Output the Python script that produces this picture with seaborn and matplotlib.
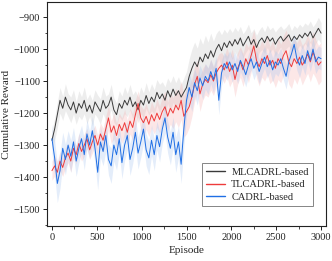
import numpy as np
import pandas as pd
import matplotlib
matplotlib.use("Agg")
import matplotlib.pyplot as plt
from matplotlib.ticker import MultipleLocator
import seaborn as sns

episodes = list(range(0, 3001, 30))

mlcadrl = [-1285, -1250, -1205, -1160, -1185, -1150, -1175, -1190, -1165, -1200,
           -1170, -1185, -1160, -1195, -1175, -1200, -1165, -1180, -1195, -1160,
           -1185, -1175, -1150, -1190, -1205, -1170, -1185, -1160, -1175, -1150,
           -1180, -1165, -1190, -1160, -1175, -1145, -1170, -1150, -1165, -1135,
           -1155, -1140, -1160, -1130, -1150, -1125, -1145, -1130, -1150, -1135,
           -1120, -1085, -1060, -1040, -1055, -1025, -1040, -1015, -1030, -1005,
           -1025, -1000, -985, -1005, -980, -995, -975, -990, -970, -985,
           -965, -990, -975, -960, -985, -970, -995, -975, -965, -980,
           -960, -975, -965, -985, -970, -960, -975, -965, -955, -975,
           -960, -970, -955, -965, -950, -960, -945, -965, -950, -935,
           -950]

tlcadrl = [-1380, -1365, -1385, -1350, -1370, -1340, -1325, -1350, -1310, -1330,
           -1295, -1320, -1300, -1280, -1315, -1290, -1270, -1300, -1265, -1285,
           -1250, -1215, -1260, -1240, -1270, -1235, -1255, -1230, -1260, -1225,
           -1245, -1205, -1170, -1215, -1230, -1210, -1235, -1205, -1225, -1200,
           -1220, -1195, -1180, -1210, -1185, -1200, -1175, -1190, -1160, -1210,
           -1195, -1180, -1150, -1110, -1085, -1140, -1110, -1095, -1105, -1080,
           -1100, -1075, -1060, -1050, -1065, -1040, -1070, -1050, -1095, -1060,
           -1040, -1065, -1030, -1050, -1020, -990, -1035, -1055, -1030, -1045,
           -1020, -1050, -1035, -1060, -1030, -1045, -1020, -1005, -1040, -1055,
           -1030, -1045, -1025, -1050, -1035, -1015, -1040, -1010, -1030, -1050,
           -1040]

cadrl = [-1280, -1340, -1420, -1380, -1310, -1345, -1300, -1335, -1290, -1350,
         -1310, -1280, -1330, -1265, -1300, -1255, -1310, -1385, -1290, -1320,
         -1270, -1345, -1365, -1300, -1330, -1280, -1355, -1300, -1270, -1345,
         -1310, -1260, -1325, -1290, -1250, -1315, -1340, -1285, -1330, -1270,
         -1305, -1250, -1215, -1275, -1310, -1260, -1330, -1290, -1360, -1250,
         -1160, -1120, -1150, -1105, -1130, -1090, -1115, -1085, -1100, -1070,
         -1095, -1060, -1160, -1075, -1045, -1060, -1040, -1065, -1045, -1070,
         -1035, -1055, -1080, -1050, -1030, -1060, -1040, -1070, -1045, -1025,
         -1055, -1035, -1065, -1040, -1050, -1030, -1060, -1085, -1040, -1015,
         -985, -1030, -1050, -1020, -1045, -1005, -1035, -1000, -1040, -1025,
         -1030]

mlcadrl_std = [30, 35, 40, 40, 38, 42, 36, 40, 38, 35,
               40, 36, 42, 38, 35, 40, 38, 36, 40, 42,
               38, 35, 40, 38, 36, 40, 38, 42, 36, 40,
               38, 35, 40, 42, 38, 40, 36, 42, 38, 40,
               45, 38, 42, 40, 45, 42, 40, 44, 40, 45,
               50, 55, 60, 62, 58, 60, 55, 58, 52, 55,
               50, 48, 45, 50, 42, 45, 40, 42, 38, 40,
               36, 38, 35, 38, 36, 34, 38, 35, 36, 34,
               35, 36, 34, 38, 35, 33, 36, 34, 35, 33,
               34, 35, 33, 34, 32, 34, 33, 35, 32, 34,
               33]

tlcadrl_std = [30, 32, 35, 30, 28, 32, 30, 35, 30, 28,
               32, 30, 35, 32, 30, 35, 32, 30, 35, 38,
               40, 38, 35, 40, 38, 35, 40, 42, 38, 40,
               42, 45, 40, 38, 42, 40, 38, 42, 40, 45,
               42, 45, 48, 45, 50, 48, 52, 55, 60, 65,
               70, 65, 60, 55, 50, 55, 50, 48, 45, 48,
               45, 42, 45, 40, 42, 45, 48, 50, 55, 50,
               48, 52, 50, 55, 52, 50, 55, 60, 58, 55,
               60, 58, 62, 60, 65, 60, 62, 65, 70, 68,
               62, 65, 60, 62, 58, 60, 62, 65, 60, 62,
               60]

cadrl_std = [45, 55, 60, 55, 50, 48, 45, 50, 45, 48,
             45, 42, 48, 45, 42, 45, 48, 55, 48, 45,
             50, 48, 55, 50, 48, 45, 50, 48, 45, 50,
             48, 45, 50, 48, 45, 50, 52, 48, 50, 45,
             48, 45, 48, 50, 52, 48, 55, 50, 60, 55,
             50, 48, 45, 42, 45, 40, 42, 40, 42, 38,
             40, 38, 45, 40, 35, 38, 35, 38, 36, 38,
             35, 36, 38, 35, 34, 36, 35, 38, 36, 34,
             36, 35, 38, 36, 35, 34, 36, 40, 36, 35,
             34, 36, 38, 35, 36, 34, 35, 34, 36, 35,
             35]

labels = ["MLCADRL-based", "TLCADRL-based", "CADRL-based"]
series = [mlcadrl, tlcadrl, cadrl]
stds = [mlcadrl_std, tlcadrl_std, cadrl_std]
line_colors = ["#3a3a3a", "#ee3b3b", "#1f6fe5"]
band_colors = ["#c4c4c4", "#f6b0b0", "#a6c4f0"]

frames = []
for lab, vals in zip(labels, series):
    frames.append(pd.DataFrame({"Episode": episodes, "Reward": vals, "Method": lab}))
df = pd.concat(frames, ignore_index=True)

sns.set_style("ticks")
plt.rcParams["font.family"] = ["Liberation Serif", "DejaVu Serif"]
plt.rcParams["axes.unicode_minus"] = True

fig = plt.figure(figsize=(3.32, 2.61), dpi=100)
ax = fig.add_axes([0.1416, 0.134, 0.8404, 0.858])

for vals, sd, bc in zip(series, stds, band_colors):
    v = np.array(vals, dtype=float)
    s = np.array(sd, dtype=float)
    ax.fill_between(episodes, v - s, v + s, color=bc, alpha=0.3, linewidth=0)

sns.lineplot(data=df, x="Episode", y="Reward", hue="Method",
             palette=dict(zip(labels, line_colors)), linewidth=0.7,
             ax=ax, legend=True, errorbar=None)

ax.set_xlim(-55, 3055)
ax.set_ylim(-1553, -853)
ax.xaxis.set_major_locator(MultipleLocator(500))
ax.xaxis.set_minor_locator(MultipleLocator(250))
ax.yaxis.set_major_locator(MultipleLocator(100))
ax.yaxis.set_minor_locator(MultipleLocator(50))
ax.tick_params(axis="both", which="major", direction="out", length=3, width=0.7,
               labelsize=7.5, pad=2, colors="#222222")
ax.tick_params(axis="both", which="minor", direction="out", length=1.8, width=0.6)
ax.set_xlabel("Episode", fontsize=8, labelpad=3)
ax.set_ylabel("Cumulative Reward", fontsize=8, labelpad=2)
for sp in ax.spines.values():
    sp.set_visible(True)
    sp.set_linewidth(0.8)
    sp.set_color("#222222")

leg = ax.legend(loc="lower right", fontsize=7.5, frameon=True, fancybox=False,
                edgecolor="#666666", handlelength=1.8, handletextpad=0.6,
                borderpad=0.4, labelspacing=0.3, bbox_to_anchor=(0.972, 0.067))
leg.get_frame().set_linewidth(0.7)
for h in leg.get_lines():
    h.set_linewidth(1.0)

fig.savefig("out.png", dpi=100)
